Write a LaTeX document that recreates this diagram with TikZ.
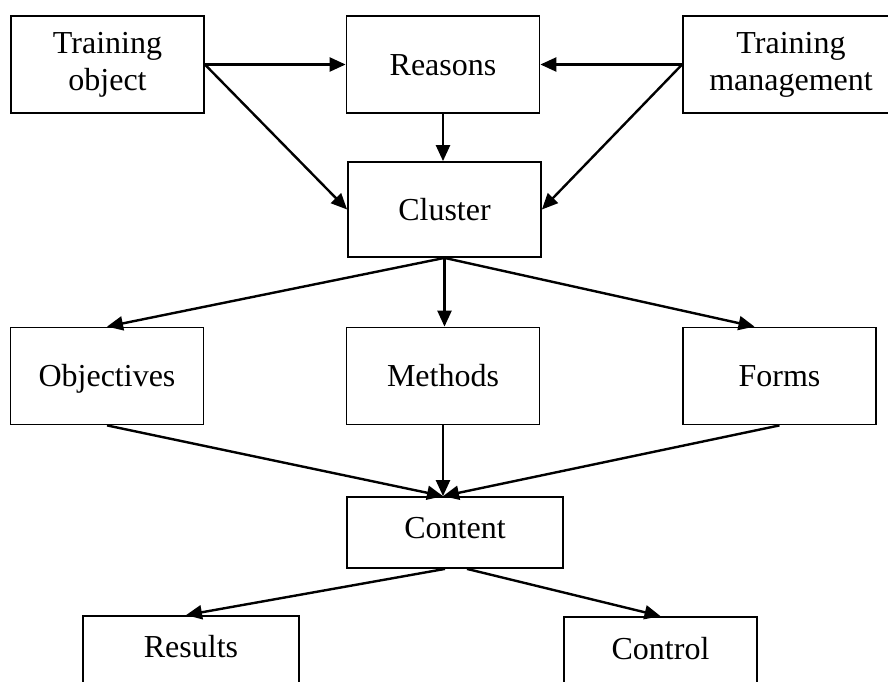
\documentclass[tikz,border=0pt]{standalone}
\usepackage{fontspec}
\setmainfont{Liberation Serif}
\usetikzlibrary{arrows.meta}
\begin{document}
\begin{tikzpicture}[x=1pt,y=-1pt,
  box/.style={draw, line width=1.8pt, inner sep=0pt, minimum width=193pt,
    minimum height=97pt, align=center, font=\fontsize{32}{37}\selectfont},
  single/.style={box, text height=21.5pt, text depth=0pt},
  link/.style={line width=2.4pt, -{Triangle[length=16pt,width=14pt]}}]
\useasboundingbox (0,0) rectangle (888,682);
\clip (0,0) rectangle (888,682);
\fill[white] (0,0) rectangle (888,682);

% top row
\node[box] (object) at (107.5,64.5) {Training\\object};
\node[single] (reasons) at (443,64.5) {Reasons};
\node[box, minimum width=216pt] (management) at (791,64.5) {Training\\management};

% cluster
\node[single, minimum height=95pt] (cluster) at (444.5,209.5) {Cluster};

% middle row
\node[single] (objectives) at (107,376) {Objectives};
\node[single] (methods) at (443,376) {Methods};
\node[single] (forms) at (779.5,376) {Forms};

% content and outcomes
\node[box, minimum width=216pt, minimum height=71pt, text height=22pt, text depth=10pt] (content) at (455,532.5) {Content};
\node[box, minimum width=216pt, minimum height=0pt, text height=41pt, text depth=60pt, anchor=base] (results) at (191,657) {Results};
\node[box, minimum height=0pt, text height=42pt, text depth=60pt, anchor=base] (control) at (660.5,659) {Control};

% connectors
\draw[link] (object.east) -- (reasons.west);
\draw[link] (object.east) -- (cluster.west);
\draw[link] (management.west) -- (reasons.east);
\draw[link] (management.west) -- (cluster.east);
\draw[link] (reasons.south) -- (reasons.south |- cluster.north);

\draw[link] (cluster.south) -- (objectives.north);
\draw[link] (cluster.south) -- (cluster.south |- methods.north);
\draw[link] (cluster.south) -- ([xshift=-25pt]forms.north);

\coordinate (meet) at (methods.south |- content.north);
\draw[link] (objectives.south) -- (meet);
\draw[link] (methods.south) -- (meet);
\draw[link] (forms.south) -- (meet);

\draw[link] ([xshift=-10pt]content.south) -- ([xshift=-5pt]results.north);
\draw[link] ([xshift=12pt]content.south) -- (control.north);
\end{tikzpicture}
\end{document}
